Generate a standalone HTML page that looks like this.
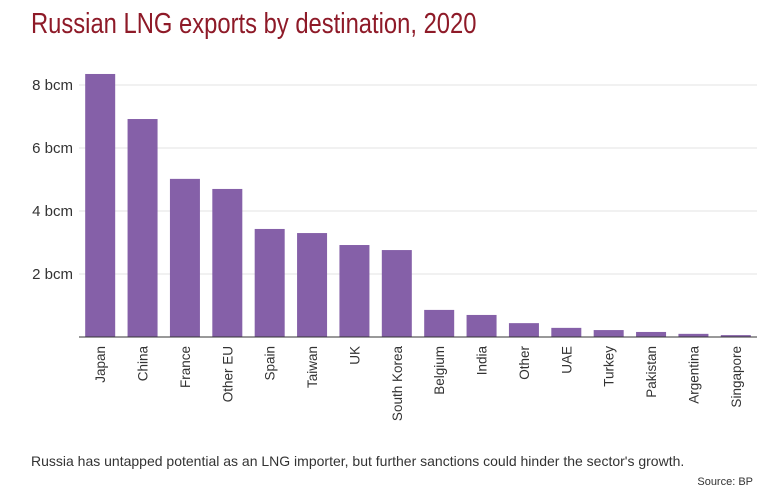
<!DOCTYPE html>
<html><head><meta charset="utf-8"><style>
body{margin:0;background:#fff;width:771px;height:501px;overflow:hidden;font-family:"Liberation Sans",sans-serif}
#title{position:absolute;left:31px;top:8px;font-size:29px;color:#8e1a28;transform:scaleX(0.82);transform-origin:left top;white-space:nowrap}
#note{position:absolute;left:31px;top:453px;font-size:14px;color:#333;white-space:nowrap}
#src{position:absolute;right:18px;top:476px;font-size:11px;color:#333}
svg{position:absolute;left:0;top:0}
</style></head><body>
<div id="title">Russian LNG exports by destination, 2020</div>
<svg id="chart" width="771" height="501"></svg>
<div id="note">Russia has untapped potential as an LNG importer, but further sanctions could hinder the sector's growth.</div>
<div id="src">Source: BP</div>
<script>
const categories=["Japan","China","France","Other EU","Spain","Taiwan","UK","South Korea","Belgium","India","Other","UAE","Turkey","Pakistan","Argentina","Singapore"];
const values=[8.35,6.92,5.02,4.70,3.43,3.30,2.92,2.76,0.86,0.70,0.44,0.29,0.22,0.16,0.10,0.06];
const ticks=[2,4,6,8];
const tickLabels=["2 bcm","4 bcm","6 bcm","8 bcm"];
const ns="http://www.w3.org/2000/svg",svg=document.getElementById('chart');
const x0=79,x1=757,y0=337,pxPer=31.5;
const band=(x1-x0)/categories.length,bw=30;
const y=v=>y0-v*pxPer,x=i=>x0+i*band+(band-bw)/2;
function mk(t,a){const e=document.createElementNS(ns,t);for(const k in a)e.setAttribute(k,a[k]);svg.appendChild(e);return e;}
ticks.forEach((t,i)=>{
 const g=mk('line',{x1:x0,x2:x1,y1:y(t),y2:y(t),stroke:'#e3e3e3'});
 
 
 const l=mk('text',{x:73,y:y(t)+5,'text-anchor':'end','font-size':15,fill:'#333'});
 l.textContent=tickLabels[i];
 
 
});
values.forEach((v,i)=>{
 const r=mk('rect',{x:x(i),y:y(v),width:bw,height:v*pxPer,fill:'#8560a8'});
 
 
 const cx=x(i)+bw/2+5;
 const t=mk('text',{x:cx,y:y0+9,'text-anchor':'end','font-size':13.5,fill:'#333',transform:`rotate(-90 ${cx} ${y0+9})`});
 t.textContent=categories[i];
 
 
});
const ax=mk('line',{x1:x0,x2:x1,y1:y0,y2:y0,stroke:'#333'});


</script>
</body></html>
